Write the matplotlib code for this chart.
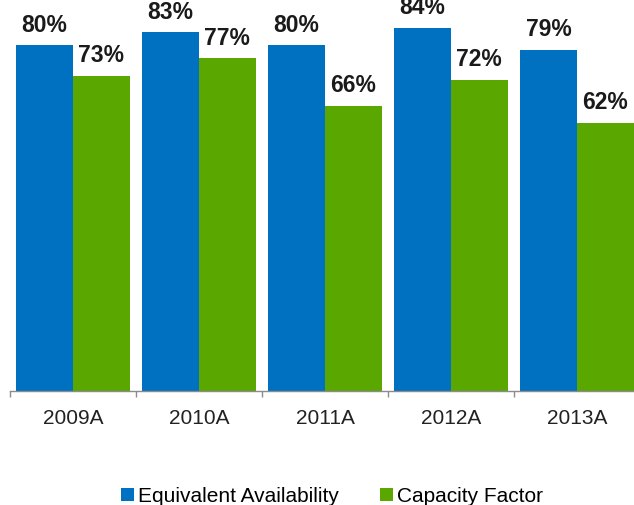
import numpy as np
import matplotlib
matplotlib.use('Agg')
import matplotlib.pyplot as plt

# Values
years = ['2009A', '2010A', '2011A', '2012A', '2013A']
equivalent_availability = [80, 83, 80, 84, 79]
capacity_factor = [73, 77, 66, 72, 62]

blue = '#0070C0'
green = '#5AA700'

plt.rcParams['font.family'] = ['Liberation Sans', 'DejaVu Sans']

fig = plt.figure(figsize=(6.34, 5.06), dpi=100)
# axes extend past the right and top edges, as in the original crop
ax = fig.add_axes([10 / 634, 114 / 506, 630 / 634, 432 / 506])

x = np.arange(len(years))
w = 0.45
b1 = ax.bar(x - w / 2, equivalent_availability, w, color=blue, label='Equivalent Availability')
b2 = ax.bar(x + w / 2, capacity_factor, w, color=green, label='Capacity Factor')

for bars, vals in [(b1, equivalent_availability), (b2, capacity_factor)]:
    for bar, v in zip(bars, vals):
        ax.annotate(f'{v}%', (bar.get_x() + bar.get_width() / 2, v),
                    xytext=(0, 7), textcoords='offset points',
                    ha='center', va='bottom', fontsize=16.5, fontweight='bold',
                    color='#1a1a1a', annotation_clip=False)

ax.set_xlim(-0.5, len(years) - 0.5)
ax.set_ylim(0, 100)

for side in ['top', 'right', 'left']:
    ax.spines[side].set_visible(False)
ax.spines['bottom'].set_color('#8c8c8c')
ax.spines['bottom'].set_linewidth(1)

ax.set_yticks([])
ax.set_xticks(x)
ax.set_xticklabels(years, fontsize=15, color='#222222')
ax.tick_params(axis='x', which='major', length=0, pad=12)
ax.set_xticks(np.arange(-0.5, len(years)), minor=True)
ax.tick_params(axis='x', which='minor', length=4, color='#8c8c8c', width=1)

fig.legend(handles=[b1, b2], loc='center', bbox_to_anchor=(332 / 634, 9 / 506),
           ncol=2, frameon=False, fontsize=15, handlelength=0.6, handleheight=0.6,
           handletextpad=0.2, columnspacing=2.0, borderaxespad=0)

fig.savefig('out.png', dpi=100)
